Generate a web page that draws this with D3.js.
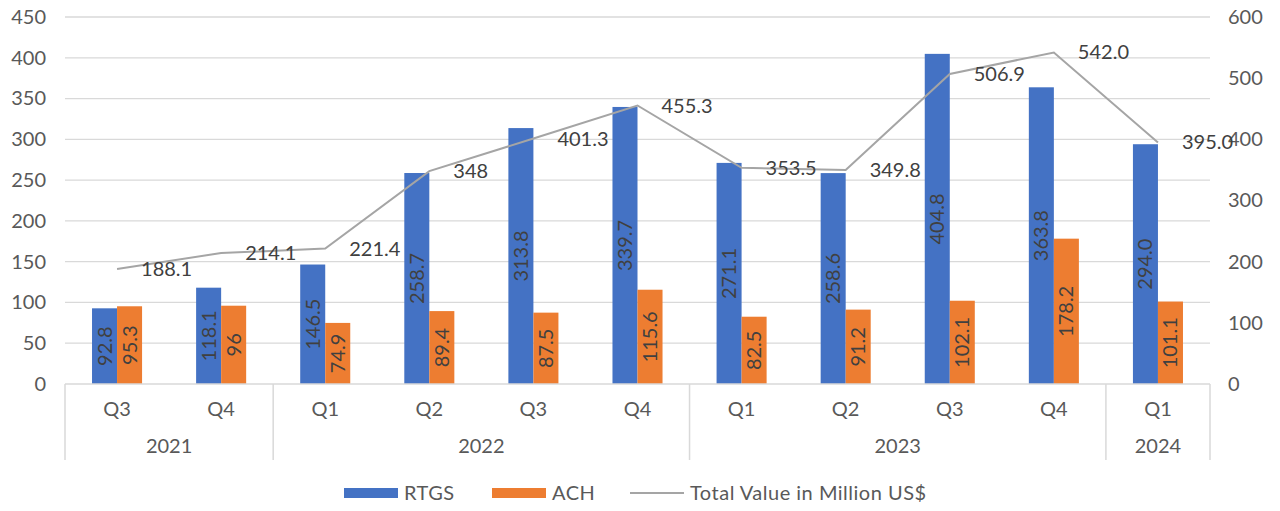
<!DOCTYPE html>
<html>
<head>
<meta charset="utf-8">
<script src="https://cdn.jsdelivr.net/npm/d3@7"></script>
<style>
body { margin: 0; background: #fff; }
text { font-family: Lato, "Open Sans", sans-serif; }
</style>
</head>
<body>
<script>
var quarters = ["Q3", "Q4", "Q1", "Q2", "Q3", "Q4", "Q1", "Q2", "Q3", "Q4", "Q1"];
var years = [["2021", 2], ["2022", 4], ["2023", 4], ["2024", 1]];
var rtgs = [92.8, 118.1, 146.5, 258.7, 313.8, 339.7, 271.1, 258.6, 404.8, 363.8, 294.0];
var ach = [95.3, 96, 74.9, 89.4, 87.5, 115.6, 82.5, 91.2, 102.1, 178.2, 101.1];
var rtgsLabels = ["92.8", "118.1", "146.5", "258.7", "313.8", "339.7", "271.1", "258.6", "404.8", "363.8", "294.0"];
var achLabels = ["95.3", "96", "74.9", "89.4", "87.5", "115.6", "82.5", "91.2", "102.1", "178.2", "101.1"];
var total = [188.1, 214.1, 221.4, 348, 401.3, 455.3, 353.5, 349.8, 506.9, 542.0, 395.0];
var totalLabels = ["188.1", "214.1", "221.4", "348", "401.3", "455.3", "353.5", "349.8", "506.9", "542.0", "395.0"];
var leftTicks = [0, 50, 100, 150, 200, 250, 300, 350, 400, 450];
var rightTicks = [0, 100, 200, 300, 400, 500, 600];

var w = 1280, h = 511;
var padLeft = 65, padRight = 1210, padTop = 17, padBottom = 384;
var fs = 20;

var svg = d3.select("body").append("svg")
	.attr("width", w)
	.attr("height", h);

var x0 = d3.scaleBand()
	.domain(d3.range(quarters.length))
	.range([padLeft, padRight]);

var x1 = d3.scaleBand()
	.domain(["rtgs", "ach"])
	.range([0, x0.bandwidth()])
	.paddingOuter(1.08);

var yL = d3.scaleLinear().domain([0, 450]).range([padBottom, padTop]);
var yR = d3.scaleLinear().domain([0, 600]).range([padBottom, padTop]);

// gridlines
svg.append("g")
	.selectAll("line")
	.data(leftTicks.slice(1))
	.enter()
	.append("line")
	.attr("x1", padLeft).attr("x2", padRight)
	.attr("y1", function(d){ return yL(d); })
	.attr("y2", function(d){ return yL(d); })
	.attr("stroke", "#d9d9d9")
	.attr("stroke-width", 1.3);

// value axes
var axL = svg.append("g")
	.attr("transform", "translate(" + padLeft + ",0)")
	.call(d3.axisLeft(yL).tickValues(leftTicks).tickSize(0).tickPadding(19));
axL.select(".domain").remove();
axL.selectAll("text").attr("font-size", fs).attr("fill", "#595959");

var axR = svg.append("g")
	.attr("transform", "translate(" + padRight + ",0)")
	.call(d3.axisRight(yR).tickValues(rightTicks).tickSize(0).tickPadding(18));
axR.select(".domain").remove();
axR.selectAll("text").attr("font-size", fs).attr("fill", "#595959");

// bars
var groups = svg.append("g")
	.selectAll("g")
	.data(quarters)
	.enter()
	.append("g")
	.attr("transform", function(d, i){ return "translate(" + x0(i) + ",0)"; });

var series = [
	{key: "rtgs", vals: rtgs, labels: rtgsLabels, color: "#4472c4"},
	{key: "ach", vals: ach, labels: achLabels, color: "#ed7d31"}
];

series.forEach(function(s){
	groups.append("rect")
		.attr("x", x1(s.key))
		.attr("width", x1.bandwidth())
		.attr("y", function(d, i){ return yL(s.vals[i]); })
		.attr("height", function(d, i){ return padBottom - yL(s.vals[i]); })
		.attr("fill", s.color);
	groups.append("text")
		.attr("transform", function(d, i){
			var cx = x1(s.key) + x1.bandwidth() / 2;
			var cy = (yL(s.vals[i]) + padBottom) / 2;
			return "translate(" + cx + "," + cy + ") rotate(-90)";
		})
		.attr("text-anchor", "middle")
		.attr("dy", "0.35em")
		.attr("font-size", fs)
		.attr("fill", "#404040")
		.text(function(d, i){ return s.labels[i]; });
});

// total line
var line = d3.line()
	.x(function(d, i){ return x0(i) + x0.bandwidth() / 2; })
	.y(function(d){ return yR(d); });

svg.append("path")
	.datum(total)
	.attr("d", line)
	.attr("fill", "none")
	.attr("stroke", "#a5a5a5")
	.attr("stroke-width", 2);

svg.append("g")
	.selectAll("text")
	.data(total)
	.enter()
	.append("text")
	.attr("x", function(d, i){ return x0(i) + x0.bandwidth() / 2 + 24; })
	.attr("y", function(d){ return yR(d); })
	.attr("dy", "0.35em")
	.attr("font-size", fs)
	.attr("fill", "#404040")
	.text(function(d, i){ return totalLabels[i]; });

// category axis
svg.append("line")
	.attr("x1", padLeft).attr("x2", padRight)
	.attr("y1", padBottom).attr("y2", padBottom)
	.attr("stroke", "#d9d9d9").attr("stroke-width", 1.5);

svg.append("g")
	.selectAll("text")
	.data(quarters)
	.enter()
	.append("text")
	.attr("x", function(d, i){ return x0(i) + x0.bandwidth() / 2; })
	.attr("y", 409)
	.attr("dy", "0.35em")
	.attr("text-anchor", "middle")
	.attr("font-size", fs)
	.attr("fill", "#595959")
	.text(function(d){ return d; });

var start = 0;
var yearPos = years.map(function(y){
	var p = {name: y[0], a: start, b: start + y[1]};
	start += y[1];
	return p;
});

var bounds = [0].concat(yearPos.map(function(p){ return p.b; }));
svg.append("g")
	.selectAll("line")
	.data(bounds)
	.enter()
	.append("line")
	.attr("x1", function(d){ return d < quarters.length ? x0(d) : padRight; })
	.attr("x2", function(d){ return d < quarters.length ? x0(d) : padRight; })
	.attr("y1", padBottom).attr("y2", 460)
	.attr("stroke", "#d9d9d9").attr("stroke-width", 1.5);

svg.append("g")
	.selectAll("text")
	.data(yearPos)
	.enter()
	.append("text")
	.attr("x", function(d){
		var xa = x0(d.a);
		var xb = d.b < quarters.length ? x0(d.b) : padRight;
		return (xa + xb) / 2;
	})
	.attr("y", 446)
	.attr("dy", "0.35em")
	.attr("text-anchor", "middle")
	.attr("font-size", fs)
	.attr("fill", "#595959")
	.text(function(d){ return d.name; });

// legend
var legend = [
	{name: "RTGS", color: "#4472c4", type: "rect", x: 344},
	{name: "ACH", color: "#ed7d31", type: "rect", x: 492},
	{name: "Total Value in Million US$", color: "#a5a5a5", type: "line", x: 630}
];
var lg = svg.append("g")
	.selectAll("g")
	.data(legend)
	.enter()
	.append("g")
	.attr("transform", function(d){ return "translate(" + d.x + ",493)"; });

lg.filter(function(d){ return d.type === "rect"; })
	.append("rect")
	.attr("x", 0).attr("y", -5)
	.attr("width", 54).attr("height", 10)
	.attr("fill", function(d){ return d.color; });
lg.filter(function(d){ return d.type === "line"; })
	.append("line")
	.attr("x1", 0).attr("x2", 54)
	.attr("y1", 0).attr("y2", 0)
	.attr("stroke", function(d){ return d.color; })
	.attr("stroke-width", 2);
lg.append("text")
	.attr("x", 60)
	.attr("dy", "0.35em")
	.attr("font-size", fs)
	.attr("letter-spacing", 0.5)
	.attr("fill", "#595959")
	.text(function(d){ return d.name; });
</script>
</body>
</html>
